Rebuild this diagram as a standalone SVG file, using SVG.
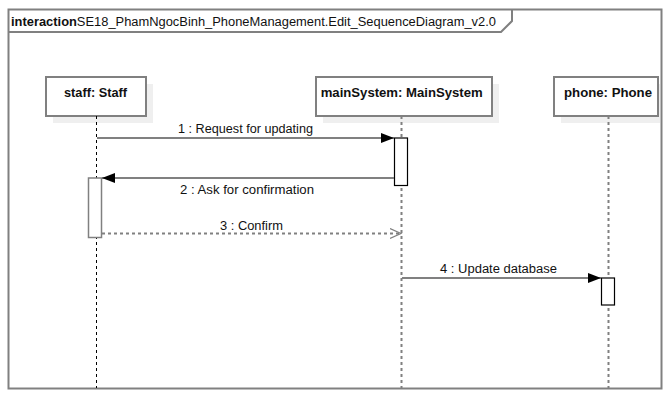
<svg xmlns="http://www.w3.org/2000/svg" width="672" height="400" viewBox="0 0 672 400">
<style>
text{font-family:"Liberation Sans",Arial,sans-serif;font-size:12.5px;fill:#111}
.name{font-weight:bold;text-anchor:middle}
.lbl{text-anchor:middle}
.box{fill:#fff;stroke:#808080;stroke-width:2}
.shadow{fill:#efefef}
.life{stroke:#808080;stroke-width:2;stroke-dasharray:3,3;fill:none}
.msg{stroke:#808080;stroke-width:2;fill:none}
.act{fill:#fff;stroke:#000;stroke-width:1.2}
</style>
<defs>
<marker id="filled" markerWidth="14" markerHeight="10" refX="13" refY="5" orient="auto" markerUnits="userSpaceOnUse">
<path d="M0,0 L13,5 L0,10 Z" fill="#000"/>
</marker>
<marker id="open" markerWidth="14" markerHeight="12" refX="11" refY="6" orient="auto" markerUnits="userSpaceOnUse">
<path d="M0,1 L11,6 L0,11" fill="none" stroke="#808080" stroke-width="1.2"/>
</marker>
</defs>
<rect width="672" height="400" fill="#fff"/>
<g id="frame">
<rect x="8.5" y="9.5" width="653" height="379" fill="none" stroke="#808080" stroke-width="2"/>
<polyline points="8.5,32 501,32 512,21 512,9.5" fill="none" stroke="#808080" stroke-width="2"/>
<text x="11" y="26" textLength="485" lengthAdjust="spacingAndGlyphs"><tspan font-weight="bold">interaction</tspan>SE18_PhamNgocBinh_PhoneManagement.Edit_SequenceDiagram_v2.0</text>
</g>
<g id="staff">
<rect class="shadow" x="53" y="84" width="100" height="39"/>
<rect class="box" x="46" y="77" width="100" height="39"/>
<text class="name" x="95.5" y="97" textLength="63" lengthAdjust="spacingAndGlyphs">staff: Staff</text>
<line x1="96.5" y1="116" x2="96.5" y2="388" stroke="#000" stroke-width="1" stroke-dasharray="3,3"/>
<rect x="88.5" y="178" width="13" height="59.5" fill="#fff" stroke="#808080" stroke-width="1.5"/>
</g>
<g id="mainSystem">
<rect class="shadow" x="323" y="84" width="176" height="39"/>
<rect class="box" x="316" y="77" width="176" height="39"/>
<text class="name" x="401.7" y="97" textLength="162" lengthAdjust="spacingAndGlyphs">mainSystem: MainSystem</text>
<line class="life" x1="401.5" y1="116" x2="401.5" y2="388"/>
<rect class="act" x="394.5" y="138" width="13" height="47.5"/>
</g>
<g id="phone">
<rect class="shadow" x="561" y="84" width="99" height="39"/>
<rect class="box" x="554" y="77" width="104" height="39"/>
<text class="name" x="608" y="97" textLength="88" lengthAdjust="spacingAndGlyphs">phone: Phone</text>
<line class="life" x1="608.5" y1="116" x2="608.5" y2="388"/>
<rect class="act" x="601.5" y="278" width="13" height="27"/>
</g>
<g id="connectors">
<line class="msg" x1="97" y1="138" x2="394" y2="138" marker-end="url(#filled)"/>
<text class="lbl" x="245.5" y="133" textLength="135" lengthAdjust="spacingAndGlyphs">1 : Request for updating</text>
<line class="msg" x1="394" y1="178" x2="102" y2="178" marker-end="url(#filled)"/>
<text class="lbl" x="247" y="194" textLength="134" lengthAdjust="spacingAndGlyphs">2 : Ask for confirmation</text>
<line class="msg" x1="102" y1="233.5" x2="401" y2="233.5" stroke-dasharray="3,3" marker-end="url(#open)"/>
<text class="lbl" x="251.5" y="230" textLength="63" lengthAdjust="spacingAndGlyphs">3 : Confirm</text>
<line class="msg" x1="402" y1="278" x2="601" y2="278" marker-end="url(#filled)"/>
<text class="lbl" x="498.5" y="273" textLength="117" lengthAdjust="spacingAndGlyphs">4 : Update database</text>
</g>
</svg>
